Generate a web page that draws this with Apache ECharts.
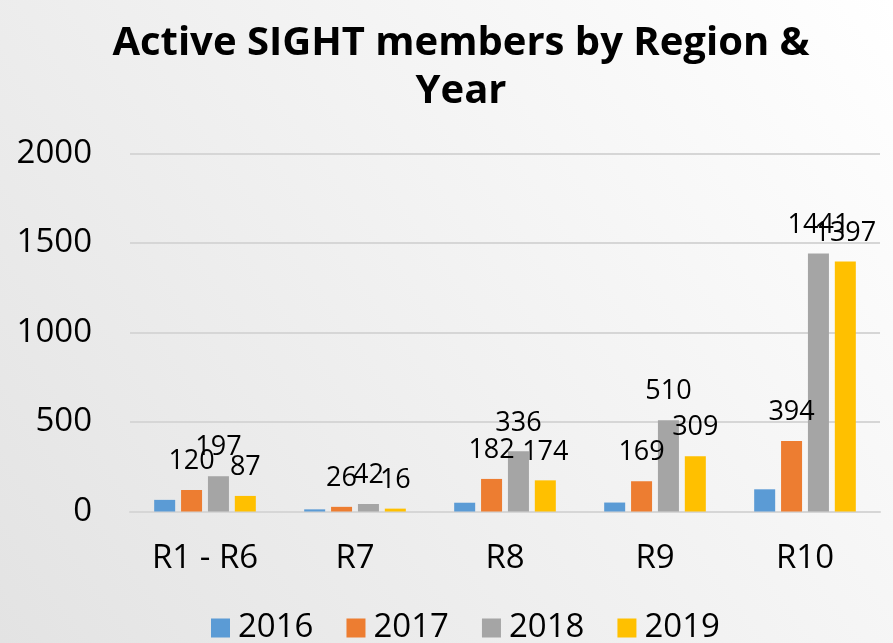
<!DOCTYPE html>
<html>
<head>
<meta charset="utf-8">
<script src="https://cdn.jsdelivr.net/npm/echarts@6/dist/echarts.min.js"></script>
<style>html,body{margin:0;padding:0;}#c{width:893px;height:643px;}</style>
</head>
<body>
<div id="c"></div>
<script>
const categories = ['R1 - R6', 'R7', 'R8', 'R9', 'R10'];
const years = ['2016', '2017', '2018', '2019'];
const v2016 = [65, 12, 49, 50, 124];
const v2017 = [120, 26, 182, 169, 394];
const v2018 = [197, 42, 336, 510, 1441];
const v2019 = [87, 16, 174, 309, 1397];
const yTicks = [0, 500, 1000, 1500, 2000];
const colors = ['#5b9bd5', '#ed7d31', '#a5a5a5', '#ffc000'];
const seriesData = [v2016, v2017, v2018, v2019];
const showLabel = [false, true, true, true];

const FONT = '"Open Sans", sans-serif';
const chart = echarts.init(document.getElementById('c'));
chart.setOption({
  backgroundColor: new echarts.graphic.LinearGradient(1, 0, 0, 1, [
    {offset: 0, color: '#ffffff'},
    {offset: 1, color: '#e3e3e3'}
  ]),
  title: {
    text: 'Active SIGHT members by Region &\nYear',
    left: 456,
    textAlign: 'center',
    top: 15,
    textStyle: {fontFamily: FONT, fontWeight: 'bold', fontSize: 40, lineHeight: 48, color: '#000'}
  },
  legend: {
    data: years,
    top: 605,
    left: 206,
    itemWidth: 19,
    itemHeight: 19,
    itemGap: 33,
    icon: 'rect',
    textStyle: {fontFamily: FONT, fontSize: 33, lineHeight: 36, color: '#000', padding: [0, 0, 0, 3]}
  },
  grid: {left: 130, right: 13, top: 153.5, bottom: 131.5},
  xAxis: {
    type: 'category',
    data: categories,
    axisTick: {show: false},
    axisLine: {lineStyle: {color: '#d6d6d6', width: 2}},
    axisLabel: {fontFamily: FONT, fontSize: 33, color: '#000', margin: 31}
  },
  yAxis: {
    type: 'value',
    min: yTicks[0],
    max: yTicks[yTicks.length - 1],
    interval: 500,
    axisLine: {show: false},
    axisTick: {show: false},
    splitLine: {lineStyle: {color: '#d6d6d6', width: 2}},
    axisLabel: {fontFamily: FONT, fontSize: 33, color: '#000', margin: 38, formatter: v => String(v)}
  },
  series: years.map((y, i) => ({
    name: y,
    type: 'bar',
    data: seriesData[i],
    barWidth: 21,
    barGap: '28%',
    itemStyle: {color: colors[i]},
    label: {
      show: showLabel[i],
      position: 'top',
      distance: 15,
      fontFamily: FONT,
      fontSize: 27,
      color: '#000'
    }
  }))
});
</script>
</body>
</html>
